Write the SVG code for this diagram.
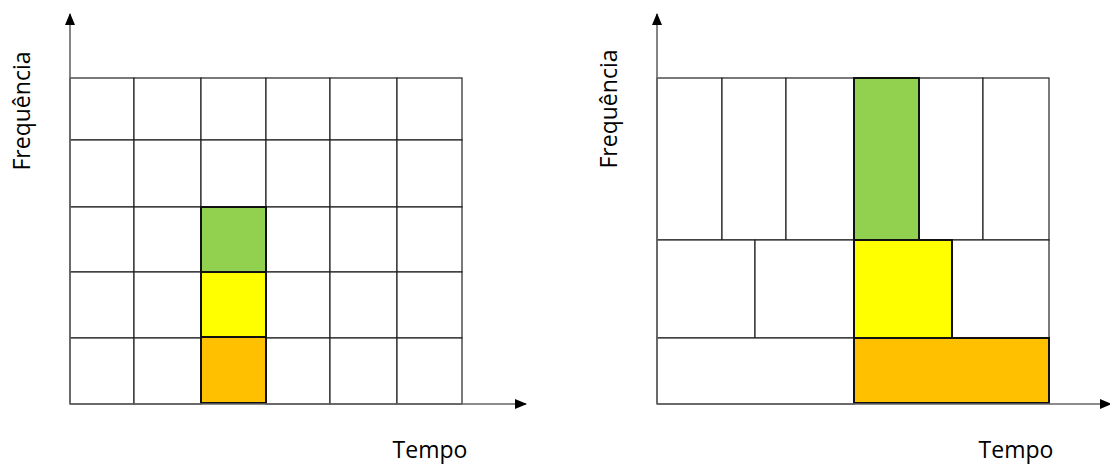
<svg xmlns="http://www.w3.org/2000/svg" width="1110" height="464" viewBox="0 0 1110 464">
<style>
.c{fill:#fff;stroke:#222;stroke-width:1.2}
.hl{stroke:#111;stroke-width:2}
.g{fill:#92D050}.y{fill:#FFFF00}.o{fill:#FFC000}
.ax{stroke:#666;stroke-width:1.6;fill:none}
.t{font-family:"Open Sans","DejaVu Sans",sans-serif;font-size:23px;fill:#000}
</style>
<defs>
<marker id="ah" viewBox="0 0 12 10" refX="11" refY="5" markerWidth="12" markerHeight="10" markerUnits="userSpaceOnUse" orient="auto">
<path d="M0,0 L12,5 L0,10 Z" fill="#000"/>
</marker>
</defs>
<rect width="1110" height="464" fill="#fff"/>
<g id="grid-left">
<rect class="c" x="70" y="78" width="64" height="62"/><rect class="c" x="134" y="78" width="67" height="62"/><rect class="c" x="201" y="78" width="65" height="62"/><rect class="c" x="266" y="78" width="64" height="62"/><rect class="c" x="330" y="78" width="67" height="62"/><rect class="c" x="397" y="78" width="65" height="62"/>
<rect class="c" x="70" y="140" width="64" height="67"/><rect class="c" x="134" y="140" width="67" height="67"/><rect class="c" x="201" y="140" width="65" height="67"/><rect class="c" x="266" y="140" width="64" height="67"/><rect class="c" x="330" y="140" width="67" height="67"/><rect class="c" x="397" y="140" width="65" height="67"/>
<rect class="c" x="70" y="207" width="64" height="65"/><rect class="c" x="134" y="207" width="67" height="65"/><rect class="c" x="266" y="207" width="64" height="65"/><rect class="c" x="330" y="207" width="67" height="65"/><rect class="c" x="397" y="207" width="65" height="65"/>
<rect class="c" x="70" y="272" width="64" height="66"/><rect class="c" x="134" y="272" width="67" height="66"/><rect class="c" x="266" y="272" width="64" height="66"/><rect class="c" x="330" y="272" width="67" height="66"/><rect class="c" x="397" y="272" width="65" height="66"/>
<rect class="c" x="70" y="338" width="64" height="66"/><rect class="c" x="134" y="338" width="67" height="66"/><rect class="c" x="266" y="338" width="64" height="66"/><rect class="c" x="330" y="338" width="67" height="66"/><rect class="c" x="397" y="338" width="65" height="66"/>
</g>
<g id="left-green"><rect class="g hl" x="201" y="207" width="65" height="65"/></g>
<g id="left-yellow"><rect class="y hl" x="201" y="272" width="65" height="65"/></g>
<g id="left-orange"><rect class="o hl" x="201" y="337" width="65" height="66"/></g>
<g id="grid-right">
<rect class="c" x="657" y="78" width="65" height="162"/><rect class="c" x="722" y="78" width="64" height="162"/><rect class="c" x="786" y="78" width="68" height="162"/><rect class="c" x="919" y="78" width="64" height="162"/><rect class="c" x="983" y="78" width="66" height="162"/>
<rect class="c" x="657" y="240" width="98" height="98"/><rect class="c" x="755" y="240" width="99" height="98"/><rect class="c" x="952" y="240" width="97" height="98"/>
<rect class="c" x="657" y="338" width="197" height="66"/>
</g>
<g id="right-green"><rect class="g hl" x="854" y="78" width="65" height="162"/></g>
<g id="right-yellow"><rect class="y hl" x="854" y="240" width="98" height="98"/></g>
<g id="right-orange"><rect class="o hl" x="854" y="338" width="195" height="65"/></g>
<g id="connectors">
<line class="ax" x1="70" y1="404" x2="70" y2="14" marker-end="url(#ah)"/>
<line class="ax" x1="70" y1="404" x2="526" y2="404" marker-end="url(#ah)"/>
<line class="ax" x1="657" y1="404" x2="657" y2="14" marker-end="url(#ah)"/>
<line class="ax" x1="657" y1="404" x2="1111" y2="404" marker-end="url(#ah)"/>
</g>
<g id="labels">
<text class="t" text-anchor="middle" transform="translate(30,111) rotate(-90)">Frequência</text>
<text class="t" text-anchor="middle" x="430" y="458">Tempo</text>
<text class="t" text-anchor="middle" transform="translate(617,109) rotate(-90)">Frequência</text>
<text class="t" text-anchor="middle" x="1016" y="458">Tempo</text>
</g>
</svg>
